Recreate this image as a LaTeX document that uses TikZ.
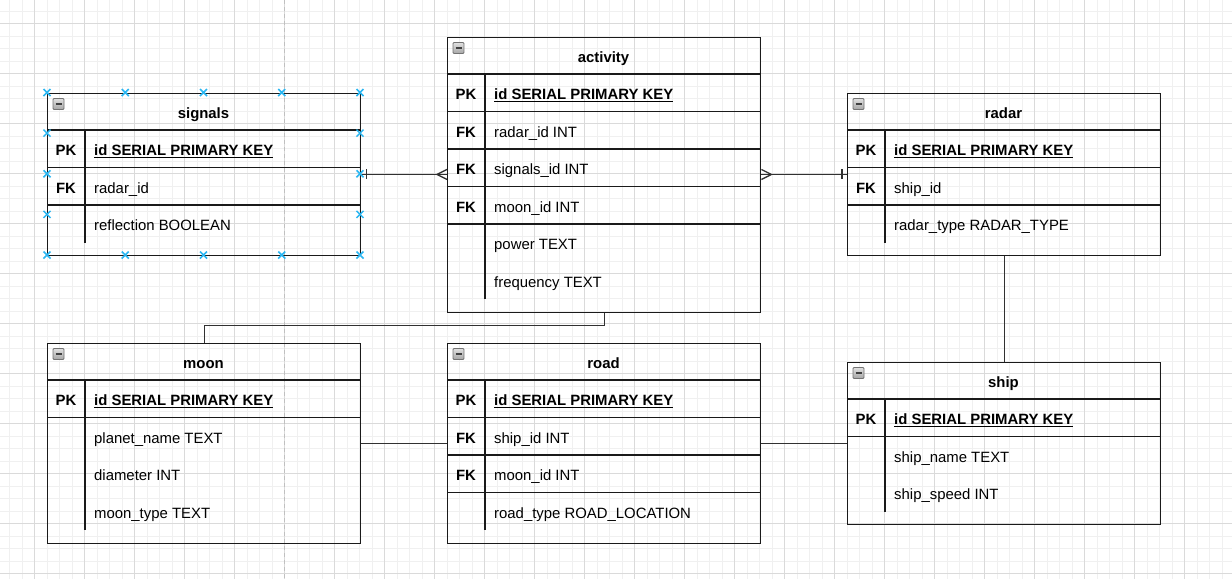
\documentclass[tikz,border=0pt]{standalone}
\usepackage{fontspec}
\setmainfont{Liberation Sans}
\usetikzlibrary{calc}
\definecolor{minorgrid}{HTML}{F0F0F0}
\definecolor{majorgrid}{HTML}{DADADA}
\definecolor{pagebreak}{HTML}{C0C0C0}
\definecolor{handleblue}{HTML}{29B6F2}
\definecolor{ink}{HTML}{1A1A1A}
\newcommand\pkul[1]{\setbox0\hbox{#1}\rlap{\rule[-2.6pt]{\wd0}{1.3pt}}\box0}
\tikzset{
  gridminor/.style={draw=minorgrid, line width=0.9pt},
  gridmajor/.style={draw=majorgrid, line width=0.9pt},
  pagebreakline/.style={draw=pagebreak, line width=1pt, dash pattern=on 4pt off 3pt},
  tablebox/.style={draw=ink, line width=1.4pt, minimum width=313pt, inner sep=0pt, rectangle},
  tableline/.style={draw=ink, line width=1.4pt},
  connector/.style={draw=ink!90, line width=1.3pt},
  titletext/.style={font=\fontsize{14.9}{17}\selectfont\bfseries, inner sep=0pt, text height=14pt, text depth=0pt, anchor=center, text=black},
  keytext/.style={font=\fontsize{14.9}{17}\selectfont\bfseries, inner sep=0pt, text height=14pt, text depth=0pt, anchor=center, text=black},
  fieldtext/.style={font=\fontsize{14.9}{17}\selectfont, inner sep=0pt, text height=14pt, text depth=0pt, anchor=west, text=black},
  iconbox/.style={draw=black!55, top color=black!12, bottom color=black!35, line width=0.8pt, rounded corners=1pt},
  iconbar/.style={draw=black!75, line width=1.8pt},
  handle/.style={draw=handleblue, line width=1.5pt}
}
\newcommand\ertable[5]{% name, x, y, height, title
  \def\tabx{#2}\def\taby{#3}%
  \node[tablebox, minimum height=#4pt, anchor=north west] (#1) at (#2,#3) {};
  \node[titletext] (#1-title) at (#2+156.5,#3+18.75) {#5};
  \draw[tableline] (#2,#3+37.5) -- (#2+313,#3+37.5);
  \draw[iconbox] (#2+6,#3+6) rectangle (#2+17,#3+17);
  \draw[iconbar] (#2+8.5,#3+11.5) -- (#2+14.5,#3+11.5);
}
\newcommand\keyrow[4]{% name, index, key, text
  \node[keytext] (#1-k#2) at (\tabx+19,\taby+37.5*#2+18.75) {#3};
  \node[fieldtext] (#1-f#2) at (\tabx+47,\taby+37.5*#2+18.75) {#4};
  \draw[tableline] (\tabx,\taby+37.5*#2+37.5) -- (\tabx+313,\taby+37.5*#2+37.5);
}
\newcommand\plainrow[3]{% name, index, text
  \node[fieldtext] (#1-f#2) at (\tabx+47,\taby+37.5*#2+18.75) {#3};
}
\newcommand\keydivider[1]{% number of rows
  \draw[tableline] (\tabx+38,\taby+37.5) -- (\tabx+38,\taby+37.5*#1+37.5);
}
\begin{document}
\begin{tikzpicture}[x=1pt,y=-1pt]
\useasboundingbox (0,0) rectangle (1232,579);
\fill[white] (0,0) rectangle (1232,579);
% grid
\foreach \i in {0,...,97} \draw[gridminor] (9.5+12.5*\i,0) -- (9.5+12.5*\i,579);
\foreach \i in {0,...,45} \draw[gridminor] (0,11+12.5*\i) -- (1232,11+12.5*\i);
\foreach \i in {0,...,23} \draw[gridmajor] (34.5+50*\i,0) -- (34.5+50*\i,579);
\foreach \i in {0,...,11} \draw[gridmajor] (0,23.5+50*\i) -- (1232,23.5+50*\i);
\draw[pagebreakline] (284.5,0) -- (284.5,579);

% signals
\ertable{signals}{47}{92.5}{162.5}{signals}
\keyrow{signals}{1}{PK}{\bfseries\pkul{id SERIAL PRIMARY KEY}}
\keyrow{signals}{2}{FK}{radar\_id}
\plainrow{signals}{3}{reflection BOOLEAN}
\keydivider{3}

% activity
\ertable{activity}{447}{36.5}{275}{activity}
\keyrow{activity}{1}{PK}{\bfseries\pkul{id SERIAL PRIMARY KEY}}
\keyrow{activity}{2}{FK}{radar\_id INT}
\keyrow{activity}{3}{FK}{signals\_id INT}
\keyrow{activity}{4}{FK}{moon\_id INT}
\plainrow{activity}{5}{power TEXT}
\plainrow{activity}{6}{frequency TEXT}
\keydivider{6}

% radar
\ertable{radar}{847}{92.5}{162.5}{radar}
\keyrow{radar}{1}{PK}{\bfseries\pkul{id SERIAL PRIMARY KEY}}
\keyrow{radar}{2}{FK}{ship\_id}
\plainrow{radar}{3}{radar\_type RADAR\_TYPE}
\keydivider{3}

% moon
\ertable{moon}{47}{342.5}{200}{moon}
\keyrow{moon}{1}{PK}{\bfseries\pkul{id SERIAL PRIMARY KEY}}
\plainrow{moon}{2}{planet\_name TEXT}
\plainrow{moon}{3}{diameter INT}
\plainrow{moon}{4}{moon\_type TEXT}
\keydivider{4}

% road
\ertable{road}{447}{342.5}{200}{road}
\keyrow{road}{1}{PK}{\bfseries\pkul{id SERIAL PRIMARY KEY}}
\keyrow{road}{2}{FK}{ship\_id INT}
\keyrow{road}{3}{FK}{moon\_id INT}
\plainrow{road}{4}{road\_type ROAD\_LOCATION}
\keydivider{4}

% ship
\ertable{ship}{847}{361.5}{162.5}{ship}
\keyrow{ship}{1}{PK}{\bfseries\pkul{id SERIAL PRIMARY KEY}}
\plainrow{ship}{2}{ship\_name TEXT}
\plainrow{ship}{3}{ship\_speed INT}
\keydivider{3}

% connectors
\coordinate (sa) at (activity.west |- signals.east);
\coordinate (ar) at (activity.east |- radar.west);
\draw[connector] (signals.east) -- (sa);
\draw[connector] ([xshift=5pt]signals.east) ++(0,-5) -- ++(0,10);
\draw[connector] ([xshift=-10pt]sa) -- ([yshift=5pt]sa) ([xshift=-10pt]sa) -- ([yshift=-5pt]sa);
\draw[connector] (ar) -- (radar.west);
\draw[connector] ([xshift=-5pt]radar.west) ++(0,-5) -- ++(0,10);
\draw[connector] ([xshift=10pt]ar) -- ([yshift=5pt]ar) ([xshift=10pt]ar) -- ([yshift=-5pt]ar);
\draw[connector] (activity.south) -- ++(0,12.5) -| (moon.north);
\draw[connector] (moon.east) -- (road.west);
\draw[connector] (road.east) -- (road.east -| ship.west);
\draw[connector] (radar.south) -- (ship.north);

% selection handles on signals
\foreach \hx in {47,125.25,203.5,281.75,360}
  \foreach \hy in {92.5,255}
    \draw[handle] (\hx-3.5,\hy-3.5) -- (\hx+3.5,\hy+3.5) (\hx-3.5,\hy+3.5) -- (\hx+3.5,\hy-3.5);
\foreach \hx in {47,360}
  \foreach \hy in {133.125,173.75,214.375}
    \draw[handle] (\hx-3.5,\hy-3.5) -- (\hx+3.5,\hy+3.5) (\hx-3.5,\hy+3.5) -- (\hx+3.5,\hy-3.5);
\end{tikzpicture}
\end{document}
